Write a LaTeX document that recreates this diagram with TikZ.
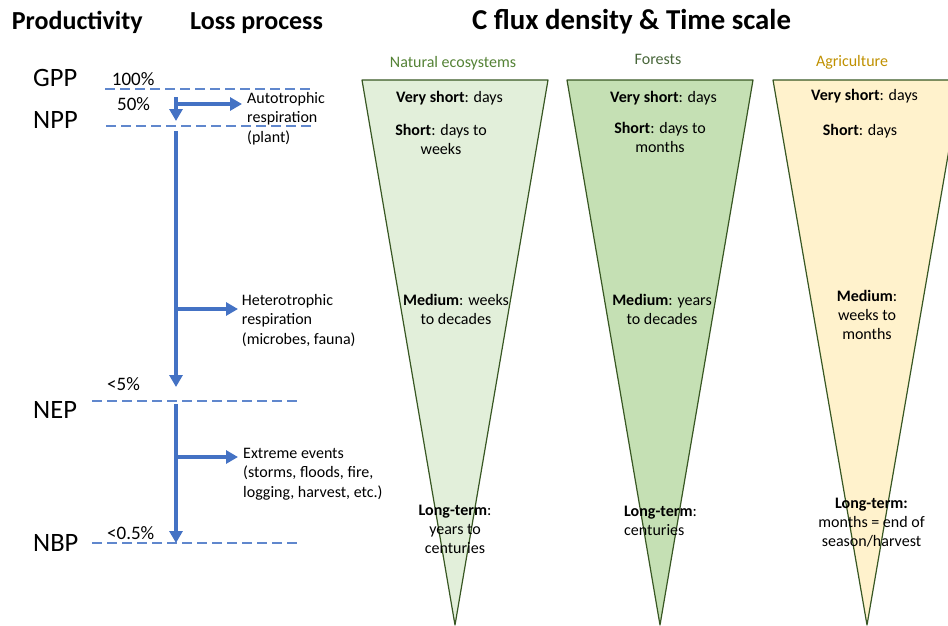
\documentclass[tikz,border=0pt]{standalone}
\usepackage{fontspec}
\setmainfont{Carlito}
\usepackage{tikz}
\usetikzlibrary{arrows.meta}
\definecolor{flowblue}{RGB}{68,114,196}
\definecolor{natfill}{RGB}{226,239,218}
\definecolor{forfill}{RGB}{197,224,180}
\definecolor{agrfill}{RGB}{255,242,204}
\definecolor{edgegreen}{RGB}{56,87,35}
\definecolor{natgreen}{RGB}{84,130,53}
\definecolor{forgreen}{RGB}{72,102,58}
\definecolor{agrgold}{RGB}{191,144,0}
\tikzset{every edge/.style={draw,
		flowblue,line width=3.3pt,-{Triangle[length=12pt,width=13pt]}}}
\tikzstyle{heading}=[font=\fontsize{26}{31}\selectfont\bfseries,anchor=base west,inner sep=0pt]
\tikzstyle{level}=[font=\fontsize{26.5}{31}\selectfont,anchor=base west,inner sep=0pt]
\tikzstyle{share}=[font=\fontsize{19}{23}\selectfont,anchor=base west,inner sep=0pt]
\tikzstyle{loss}=[font=\fontsize{16}{19.5}\selectfont,align=left,anchor=base west,inner sep=0pt]
\tikzstyle{timetext}=[font=\fontsize{16}{19}\selectfont,align=center,anchor=base,inner sep=0pt]
\tikzstyle{system}=[font=\fontsize{16}{19}\selectfont,anchor=base,inner sep=0pt]
\tikzstyle{divider}=[draw=flowblue!85,line width=1.2pt,dash pattern=on 10pt off 5pt]
\tikzstyle{funnel}=[draw=edgegreen,line width=1.2pt,line join=round]

\begin{document}
\begin{tikzpicture}[x=1pt,y=-1pt]
		\useasboundingbox (0,0) rectangle (948,625);
		% funnels
		\draw [funnel,fill=natfill] (362,80) -- (548,80) -- (455,625) -- cycle;
		\draw [funnel,fill=forfill] (567,80) -- (753,80) -- (660,625) -- cycle;
		\draw [funnel,fill=agrfill] (773,80) -- (961,80) -- (867,625) -- cycle;
		% headings
		\node at (11.7,29) [heading] (h1) {Productivity};
		\node at (190,29) [heading] (h2) {Loss process};
		\node at (472,29) [heading,font=\fontsize{28.8}{34}\selectfont\bfseries] (h3) {C flux density \& Time scale};
		% productivity levels
		\node at (33,86.7) [level] (gpp) {GPP};
		\node at (33,128) [level] (npp) {NPP};
		\node at (33,418) [level] (nep) {NEP};
		\node at (33,551) [level] (nbp) {NBP};
		\node at (111.7,85) [share] (p1) {100\%};
		\node at (117,110) [share] (p2) {50\%};
		\node at (107,390) [share] (p3) {<5\%};
		\node at (107,539) [share] (p4) {<0.5\%};
		\draw [divider] (105,89) -- (310,89);
		\draw [divider] (106,126) -- (312,126);
		\draw [divider] (92,401) -- (300,401);
		\draw [divider] (92,543) -- (300,543);
		% loss arrows
		\coordinate (a0) at (176,97);
		\coordinate (a1) at (176,121);
		\coordinate (a2) at (176,104);
		\coordinate (a3) at (242,104);
		\coordinate (b0) at (176,131);
		\coordinate (b1) at (176,387);
		\coordinate (b2) at (176,309);
		\coordinate (b3) at (238,309);
		\coordinate (c0) at (176,404);
		\coordinate (c1) at (176,543);
		\coordinate (c2) at (176,457);
		\coordinate (c3) at (238,457);
		\draw (a0) edge (a1);
		\draw (a2) edge (a3);
		\draw (b0) edge (b1);
		\draw (b2) edge (b3);
		\draw (c0) edge (c1);
		\draw (c2) edge (c3);
		\node at (247,142) [loss] (l1) {Autotrophic\\respiration\\(plant)};
		\node at (241.7,344) [loss] (l2) {Heterotrophic\\respiration\\(microbes, fauna)};
		\node at (243,497) [loss] (l3) {Extreme events\\(storms, floods, fire,\\logging, harvest, etc.)};
		% systems
		\node at (453,67) [system,text=natgreen] (s1) {Natural ecosystems};
		\node at (658,64) [system,text=forgreen] (s2) {Forests};
		\node at (852,66) [system,text=agrgold] (s3) {Agriculture};
		% time scales
		\node at (449.5,102) [timetext] (n1) {\textbf{Very short}: days};
		\node at (441,154) [timetext] (n2) {\textbf{Short}: days to\\weeks};
		\node at (456,324) [timetext] (n3) {\textbf{Medium}: weeks\\to decades};
		\node at (455,553) [timetext] (n4) {\textbf{Long-term}:\\years to\\centuries};
		\node at (663.5,102) [timetext] (f1) {\textbf{Very short}: days};
		\node at (660,152) [timetext] (f2) {\textbf{Short}: days to\\months};
		\node at (662,324) [timetext] (f3) {\textbf{Medium}: years\\to decades};
		\node at (624,535) [timetext,align=left,anchor=base west] (f4) {\textbf{Long-term}:\\centuries};
		\node at (864.5,100) [timetext] (g1) {\textbf{Very short}: days};
		\node at (860,135) [timetext] (g2) {\textbf{Short}: days};
		\node at (867,339) [timetext] (g3) {\textbf{Medium}:\\weeks to\\months};
		\node at (871.5,546) [timetext] (g4) {\textbf{Long-term:}\\months = end of\\season/harvest};
		\end{tikzpicture}
\end{document}
